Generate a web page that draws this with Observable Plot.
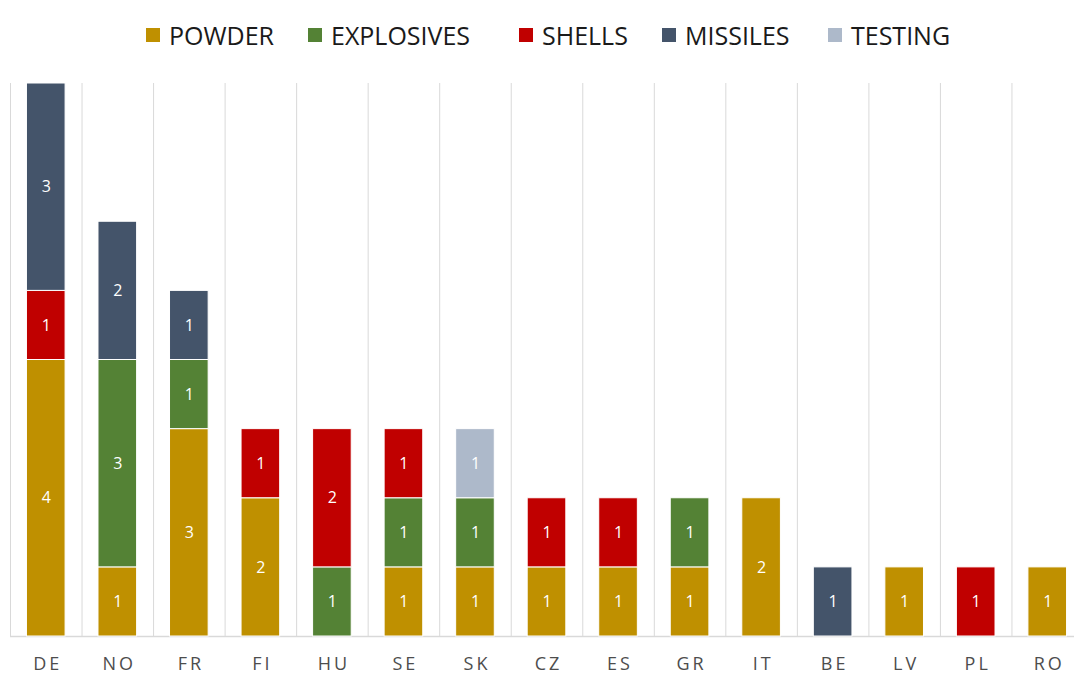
<!DOCTYPE html>
<html>
<head>
<meta charset="utf-8">
<script src="https://cdn.jsdelivr.net/npm/d3@7"></script>
<script src="https://cdn.jsdelivr.net/npm/@observablehq/plot@0.6"></script>
<style>
  html, body { margin: 0; padding: 0; background: #fff; overflow: hidden; }
  body { width: 1074px; height: 678px; font-family: "Open Sans", sans-serif; }
  #legend { height: 69px; display: flex; justify-content: flex-start; align-items: center; font-size: 25px; color: #1a1a1a; padding-left: 146px; box-sizing: border-box; }
  .item { display: flex; align-items: center; white-space: nowrap; }
  .item:nth-child(1) { width: 162px; }
  .item:nth-child(2) { width: 211px; }
  .item:nth-child(3) { width: 143px; }
  .item:nth-child(4) { width: 166px; }
  .sw { width: 14px; height: 14px; margin-right: 9px; }
  #chart g[aria-label="x-axis tick label"] text { letter-spacing: 3px; }
</style>
</head>
<body>
<div id="legend"></div>
<div id="chart"></div>
<script>
const countries = ["DE","NO","FR","FI","HU","SE","SK","CZ","ES","GR","IT","BE","LV","PL","RO"];
const types = ["POWDER","EXPLOSIVES","SHELLS","MISSILES","TESTING"];
const colors = ["#BF9000","#548235","#C00000","#44546A","#ADB9CA"];
const powder     = [4,1,3,2,0,1,1,1,1,1,2,0,1,0,1];
const explosives = [0,3,1,0,1,1,1,0,0,1,0,0,0,0,0];
const shells     = [1,0,0,1,2,1,0,1,1,0,0,0,0,1,0];
const missiles   = [3,2,1,0,0,0,0,0,0,0,0,1,0,0,0];
const testing    = [0,0,0,0,0,0,1,0,0,0,0,0,0,0,0];

const series = [powder, explosives, shells, missiles, testing];
const data = [];
countries.forEach((c, i) => {
  types.forEach((t, j) => {
    const v = series[j][i];
    if (v > 0) data.push({country: c, type: t, value: v});
  });
});

// legend
const legend = document.getElementById("legend");
types.forEach((t, j) => {
  const it = document.createElement("div");
  it.className = "item";
  const sw = document.createElement("span");
  sw.className = "sw";
  sw.style.background = colors[j];
  const lb = document.createElement("span");
  lb.textContent = t;
  it.appendChild(sw); it.appendChild(lb);
  legend.appendChild(it);
});

const W = 1074, H = 609;
const mL = 10, mR = -9;
const step = (W - mL - mR) / countries.length;

const chart = Plot.plot({
  width: W,
  height: H,
  marginLeft: mL,
  marginRight: mR,
  marginTop: 14,
  marginBottom: 42,
  style: {fontFamily: "Open Sans, sans-serif", background: "#fff", overflow: "hidden"},
  x: {domain: countries, paddingInner: 0.46, paddingOuter: 0.23, round: false, axis: null},
  y: {domain: [0, 8], axis: null},
  color: {domain: types, range: colors},
  marks: [
    Plot.ruleX(countries, {x: d => d, y1: 0, y2: 8, dx: -step / 2, stroke: "#d9d9d9", strokeWidth: 1}),
    Plot.ruleY([0], {stroke: "#d9d9d9", strokeWidth: 1.5}),
    Plot.barY(data, Plot.stackY({x: "country", y: "value", z: "type", fill: "type", order: types, stroke: "#ffffff", strokeWidth: 1})),
    Plot.text(data, Plot.stackY({x: "country", y: "value", z: "type", order: types, text: d => String(d.value), fill: "#ffffff", fontSize: 16})),
    Plot.axisX({tickSize: 0, tickPadding: 21, fontSize: 18, fill: "#4d4d4d", label: null, dx: 1.5})
  ]
});
document.getElementById("chart").appendChild(chart);
</script>
</body>
</html>
